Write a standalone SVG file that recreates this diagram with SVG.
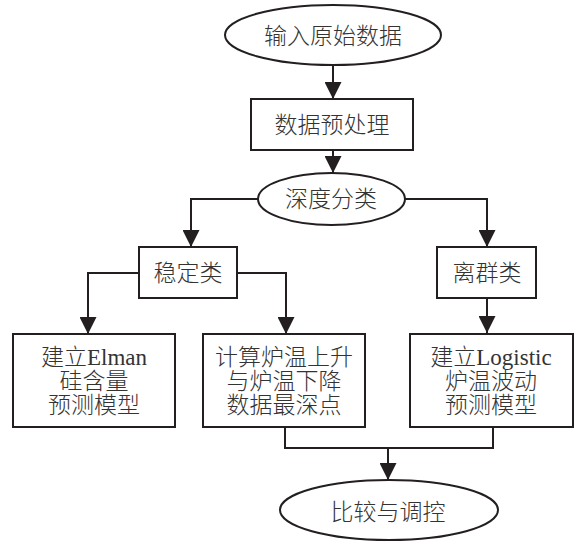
<svg xmlns="http://www.w3.org/2000/svg" width="575" height="542" viewBox="0 0 575 542">
<style>
.n{fill:#fff;stroke:#231f20;stroke-width:2}
.t{font-family:"Liberation Serif","Noto Sans CJK SC",serif;font-size:23px;font-weight:300;fill:#333;text-anchor:middle;dominant-baseline:central}
.c{fill:none;stroke:#231f20;stroke-width:2}
</style>
<defs>
<marker id="ah" markerUnits="userSpaceOnUse" markerWidth="17" markerHeight="17" refX="17" refY="8.5" orient="auto">
<path d="M0,0 L17,8.5 L0,17 z" fill="#231f20"/>
</marker>
</defs>
<g id="connectors">
<path class="c" d="M333,65 V99" marker-end="url(#ah)"/>
<path class="c" d="M333,150 V173" marker-end="url(#ah)"/>
<path class="c" d="M258,199 H191 V247" marker-end="url(#ah)"/>
<path class="c" d="M405,199 H487 V247" marker-end="url(#ah)"/>
<path class="c" d="M139,273 H88 V334" marker-end="url(#ah)"/>
<path class="c" d="M237,273 H286 V334" marker-end="url(#ah)"/>
<path class="c" d="M487,298 V333" marker-end="url(#ah)"/>
<path class="c" d="M285,427 V448 H493 V427"/>
<path class="c" d="M388,448 V480" marker-end="url(#ah)"/>
</g>
<g id="input">
<ellipse class="n" cx="333" cy="35" rx="108" ry="30"/>
<text class="t" x="333" y="36">输入原始数据</text>
</g>
<g id="preprocess">
<rect class="n" x="251" y="99" width="162" height="51"/>
<text class="t" x="332" y="125">数据预处理</text>
</g>
<g id="classify">
<ellipse class="n" cx="331.5" cy="199" rx="73.5" ry="26"/>
<text class="t" x="331" y="199">深度分类</text>
</g>
<g id="stable">
<rect class="n" x="139" y="247" width="98" height="51"/>
<text class="t" x="188" y="273">稳定类</text>
</g>
<g id="outlier">
<rect class="n" x="437" y="247" width="99" height="51"/>
<text class="t" x="487" y="273">离群类</text>
</g>
<g id="elman">
<rect class="n" x="13" y="334" width="162" height="93"/>
<text class="t" x="94" y="357">建立Elman</text>
<text class="t" x="94" y="381">硅含量</text>
<text class="t" x="94" y="405">预测模型</text>
</g>
<g id="calc">
<rect class="n" x="203" y="334" width="162" height="93"/>
<text class="t" x="284" y="357">计算炉温上升</text>
<text class="t" x="284" y="381">与炉温下降</text>
<text class="t" x="284" y="405">数据最深点</text>
</g>
<g id="logistic">
<rect class="n" x="410" y="334" width="163" height="93"/>
<text class="t" x="491" y="357">建立Logistic</text>
<text class="t" x="491" y="381">炉温波动</text>
<text class="t" x="491" y="405">预测模型</text>
</g>
<g id="compare">
<ellipse class="n" cx="389" cy="510" rx="109" ry="30"/>
<text class="t" x="388" y="512">比较与调控</text>
</g>
</svg>
